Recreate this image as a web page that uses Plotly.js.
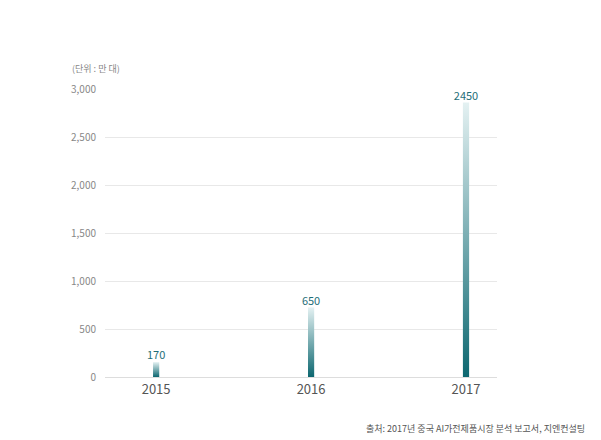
<!DOCTYPE html>
<html><head><meta charset="utf-8">
<script src="https://cdn.plot.ly/plotly-3.0.1.min.js"></script>
<style>body{margin:0}</style></head><body>
<div id="c" style="width:601px;height:440px"></div>
<script>
var years = ['2015','2016','2017'];
var barHeights = [155, 725, 2860];
var labels = ['170','650','2450'];
var F = '"Noto Sans CJK KR", "Noto Sans", sans-serif';
Plotly.newPlot('c', [{
  type:'bar', x:years, y:barHeights, width:0.04,
  marker:{color:'#5a9ea3'}, hoverinfo:'none'
},{
  type:'scatter', mode:'text', x:years, y:barHeights, text:labels, textposition:'top center',
  cliponaxis:false, textfont:{family:F,size:11,color:'#1f6e78'}, hoverinfo:'none'
}], {
  width:601, height:440, margin:{l:105,r:104,t:89,b:63},
  paper_bgcolor:'#fff', plot_bgcolor:'#fff', showlegend:false,
  xaxis:{type:'category', range:[-0.33,2.2], showgrid:false, showline:true, linecolor:'#dddddd',
    ticks:'', tickfont:{family:F,size:13,color:'#555'}},
  yaxis:{range:[0,3000], tickvals:[0,500,1000,1500,2000,2500,3000], tickformat:',',
    gridcolor:'#e8e8e8', zeroline:false, ticks:'', ticklabelstandoff:8,
    tickfont:{family:F,size:10,color:'#888'}},
  annotations:[
    {text:'(단위 : 만 대)', xref:'paper', yref:'paper', x:-0.09, y:1.04, xanchor:'left', yanchor:'bottom', showarrow:false, font:{family:F,size:9,color:'#888'}},
    {text:'출처: 2017년 중국 AI가전제품시장 분석 보고서, 지엔컨설팅', xref:'paper', yref:'paper', x:1.23, y:-0.15, xanchor:'right', yanchor:'top', showarrow:false, font:{family:F,size:9,color:'#555'}}
  ]
}, {staticPlot:true}).then(function(){
  var svg = document.querySelector('#c svg.main-svg');
  var ns='http://www.w3.org/2000/svg';
  var defs = svg.querySelector('defs') || svg.insertBefore(document.createElementNS(ns,'defs'), svg.firstChild);
  var g = document.createElementNS(ns,'linearGradient');
  g.setAttribute('id','bg'); g.setAttribute('x1','0'); g.setAttribute('y1','0'); g.setAttribute('x2','0'); g.setAttribute('y2','1');
  [['0','#e4f1f2'],['1','#0c6770']].forEach(function(s){var st=document.createElementNS(ns,'stop');st.setAttribute('offset',s[0]);st.setAttribute('stop-color',s[1]);g.appendChild(st);});
  defs.appendChild(g);
  document.querySelectorAll('#c .bars .point path').forEach(function(p){p.style.fill='url(#bg)';});
});
</script></body></html>
